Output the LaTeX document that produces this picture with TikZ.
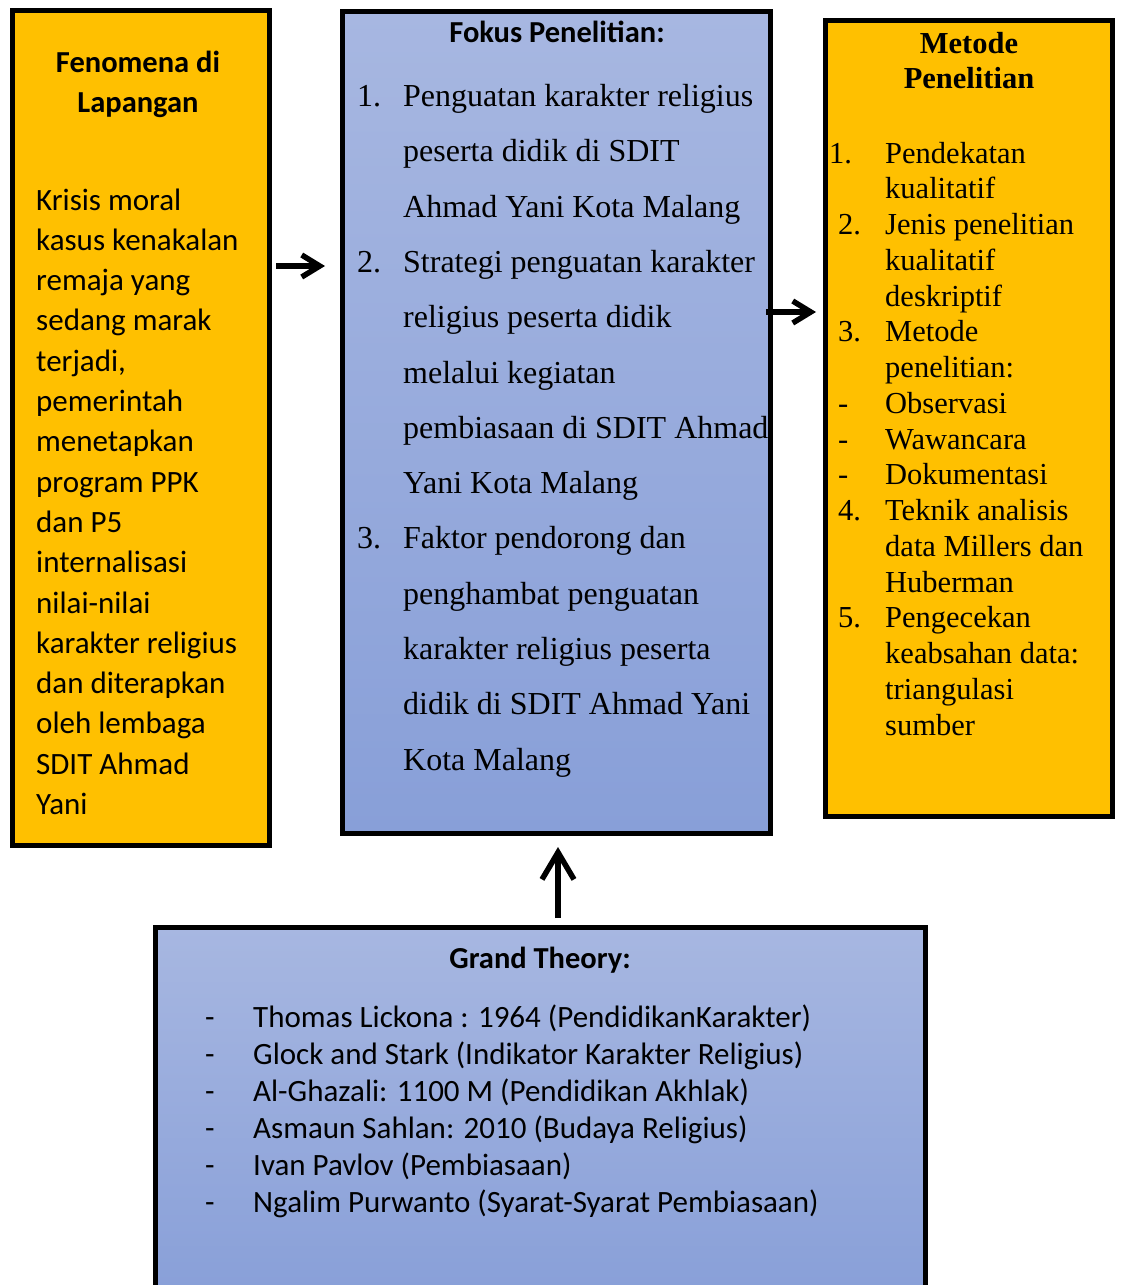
\documentclass[tikz,border=0pt]{standalone}
\usepackage{fontspec}
\setmainfont{Liberation Serif}
\setsansfont{Carlito}
\usetikzlibrary{arrows.meta,calc}
\definecolor{kuning}{HTML}{FFC000}
\definecolor{birutop}{HTML}{A7B7E1}
\definecolor{birubot}{HTML}{889FD8}

\begin{document}
\begin{tikzpicture}[
  x=1pt, y=-1pt,
  box/.style={draw=black, line width=5pt, inner sep=0pt, rectangle},
  yellowbox/.style={box, fill=kuning},
  bluebox/.style={box, top color=birutop, bottom color=birubot},
  txt/.style={inner sep=0pt, anchor=base west},
  hd/.style={inner sep=0pt, anchor=base},
  arr/.style={-{Straight Barb[length=18pt, width=22pt]}, line width=5.5pt},
  bigarr/.style={-{Straight Barb[length=27pt, width=32pt]}, line width=5.5pt}
]
\useasboundingbox (0,0) rectangle (1120,1285);

% ---------------- boxes ----------------
\node[yellowbox, minimum width=257pt, minimum height=835pt] (fen) at (141,427.5) {};
\node[bluebox, minimum width=428.5pt, minimum height=821.5pt] (fokus) at (556.25,422.25) {};
\node[yellowbox, minimum width=287.5pt, minimum height=796.5pt] (metode) at (968.75,418.25) {};
\node[bluebox, minimum width=770pt, minimum height=372.5pt] (grand) at (540,1113.75) {};

% ---------------- fenomena ----------------
\node[hd, font=\sffamily\bfseries\fontsize{30.5}{40}\selectfont] (fenhead) at (138,72)
  {\begin{tabular}[t]{@{}c@{}}Fenomena di\\ Lapangan\end{tabular}};
\node[txt, font=\sffamily\fontsize{31}{40.3}\selectfont] (fenbody) at (36,210)
  {\begin{tabular}[t]{@{}l@{}}
   Krisis moral\\ kasus kenakalan\\ remaja yang\\ sedang marak\\ terjadi,\\
   pemerintah\\ menetapkan\\ program PPK\\ dan P5\\ internalisasi\\
   nilai-nilai\\ karakter religius\\ dan diterapkan\\ oleh lembaga\\
   SDIT Ahmad\\ Yani
  \end{tabular}};

% ---------------- fokus ----------------
\node[hd, font=\sffamily\bfseries\fontsize{30.5}{36}\selectfont] (fokushead) at (557,42)
  {Fokus Penelitian:};
\node[txt, font=\rmfamily\fontsize{32}{55.3}\selectfont] (fokusbody) at (357,106.5)
  {\begin{tabular}[t]{@{}p{46pt}@{}l@{}}
   1. & Penguatan karakter religius\\
      & peserta didik di SDIT\\
      & Ahmad Yani Kota Malang\\
   2. & Strategi penguatan karakter\\
      & religius peserta didik\\
      & melalui kegiatan\\
      & pembiasaan di SDIT Ahmad\\
      & Yani Kota Malang\\
   3. & Faktor pendorong dan\\
      & penghambat penguatan\\
      & karakter religius peserta\\
      & didik di SDIT Ahmad Yani\\
      & Kota Malang
  \end{tabular}};

% ---------------- metode ----------------
\node[hd, font=\rmfamily\bfseries\fontsize{30.5}{35.5}\selectfont] (metodehead) at (969,53)
  {\begin{tabular}[t]{@{}c@{}}Metode\\ Penelitian\end{tabular}};
\node[txt, font=\rmfamily\fontsize{30.5}{35.75}\selectfont] (metodebody) at (838,163)
  {\begin{tabular}[t]{@{}p{47pt}@{}l@{}}
   \hspace*{-9pt}1. & Pendekatan\\
      & kualitatif\\
   2. & Jenis penelitian\\
      & kualitatif\\
      & deskriptif\\
   3. & Metode\\
      & penelitian:\\
   -  & Observasi\\
   -  & Wawancara\\
   -  & Dokumentasi\\
   4. & Teknik analisis\\
      & data Millers dan\\
      & Huberman\\
   5. & Pengecekan\\
      & keabsahan data:\\
      & triangulasi\\
      & sumber
  \end{tabular}};

% ---------------- grand theory ----------------
\node[hd, font=\sffamily\bfseries\fontsize{30.5}{36}\selectfont] (grandhead) at (540,968)
  {Grand Theory:};
\node[txt, font=\sffamily\fontsize{31}{37}\selectfont] (grandbody) at (205,1027)
  {\begin{tabular}[t]{@{}p{48pt}@{}l@{}}
   - & Thomas Lickona : 1964 (PendidikanKarakter)\\
   - & Glock and Stark (Indikator Karakter Religius)\\
   - & Al-Ghazali: 1100 M (Pendidikan Akhlak)\\
   - & Asmaun Sahlan: 2010 (Budaya Religius)\\
   - & Ivan Pavlov (Pembiasaan)\\
   - & Ngalim Purwanto (Syarat-Syarat Pembiasaan)
  \end{tabular}};

% ---------------- arrows ----------------
\coordinate (a1) at (0,266);
\coordinate (a2) at (0,312);
\coordinate (a3) at (558,0);
\draw[arr, shorten <=4pt, shorten >=14.5pt] (fen.east |- a1) -- (fokus.west |- a1);
\draw[arr, shorten <=-7pt, shorten >=6.5pt] (fokus.east |- a2) -- (metode.west |- a2);
\draw[bigarr, shorten <=7pt, shorten >=11.5pt] (grand.north -| a3) -- (fokus.south -| a3);

\end{tikzpicture}
\end{document}
